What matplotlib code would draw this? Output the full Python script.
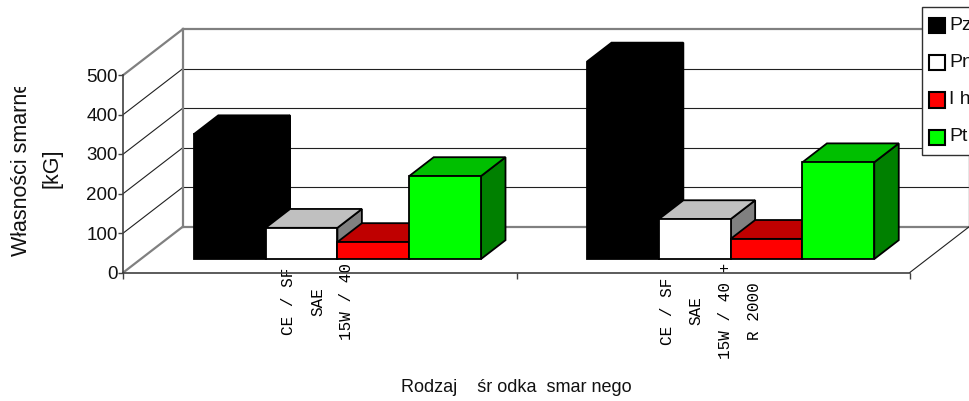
import matplotlib
matplotlib.use("Agg")
import matplotlib.pyplot as plt
from matplotlib.patches import Polygon, Patch
from matplotlib.legend_handler import HandlerPatch
from matplotlib.transforms import Bbox

# Measured properties of the two lubricants
categories = ["CE / SF\nSAE\n15W / 40", "CE / SF\nSAE\n15W / 40 +\nR 2000"]
series_names = ["Pz", "Pn", "I h", "Pt"]
pz_values = [316, 500]
pn_values = [79, 101]
ih_values = [43, 51]
pt_values = [210, 245]
y_ticks = [0, 100, 200, 300, 400, 500]

front_colors = ["#000000", "#FFFFFF", "#FF0000", "#00FF00"]
top_colors = ["#000000", "#C0C0C0", "#BF0000", "#00BF00"]
side_colors = ["#000000", "#808080", "#800000", "#008000"]

W, H = 970, 401
AX_L, AX_R, AX_B, AX_T = 123.3, 909.8, 272.5, 75
fig = plt.figure(figsize=(W / 100, H / 100), dpi=100, facecolor="white")
plt.rcParams["font.family"] = "Liberation Sans"
ax = fig.add_axes([AX_L / W, 1 - AX_B / H, (AX_R - AX_L) / W, (AX_B - AX_T) / H])
ax.set_xlim(0, 2)
ax.set_ylim(0, 500)
ax.patch.set_visible(False)

# Depth vector of the chart box, in data units
PX_X = 2 / (AX_R - AX_L)
PX_Y = 500 / (AX_B - AX_T)
DEPTH_X = 59.7 * PX_X
DEPTH_Y = 46 * PX_Y
BAR_START = 0.293
BAR_DEPTH = 0.41
BAR_WIDTH = 71.8 * PX_X

wall_color = "#808080"
grid_color = "#202020"
thin = 0.8

# Back wall, floor and side wall
for v in y_ticks:
    is_edge = v in (0, 500)
    c = wall_color if is_edge else grid_color
    lw = 1.6 if is_edge else thin
    ax.plot([0, DEPTH_X], [v, v + DEPTH_Y], color=c, lw=lw, clip_on=False, zorder=1)
    ax.plot([DEPTH_X, 2 + DEPTH_X], [v + DEPTH_Y, v + DEPTH_Y], color=c, lw=lw,
            clip_on=False, zorder=1)
ax.plot([DEPTH_X, DEPTH_X], [DEPTH_Y, 500 + DEPTH_Y], color=wall_color, lw=1.6,
        clip_on=False, zorder=1)
ax.plot([2 + DEPTH_X, 2 + DEPTH_X], [DEPTH_Y, 500 + DEPTH_Y], color=wall_color, lw=1.0,
        clip_on=False, zorder=1)
ax.plot([2, 2 + DEPTH_X], [0, DEPTH_Y], color=grid_color, lw=thin, clip_on=False, zorder=1)


def draw_bar(x, value, color_index):
    """Draw one box with its front, top and side faces."""
    x0 = x + BAR_START * DEPTH_X
    y0 = BAR_START * DEPTH_Y
    y1 = y0 + value
    x1 = x0 + BAR_WIDTH
    dx, dy = BAR_DEPTH * DEPTH_X, BAR_DEPTH * DEPTH_Y
    kw = dict(edgecolor="black", lw=1.3, clip_on=False, zorder=3, joinstyle="miter")
    ax.add_patch(Polygon([(x1, y0), (x1 + dx, y0 + dy), (x1 + dx, y1 + dy), (x1, y1)],
                         facecolor=side_colors[color_index], **kw))
    ax.add_patch(Polygon([(x0, y1), (x1, y1), (x1 + dx, y1 + dy), (x0 + dx, y1 + dy)],
                         facecolor=top_colors[color_index], **kw))
    ax.add_patch(Polygon([(x0, y0), (x1, y0), (x1, y1), (x0, y1)],
                         facecolor=front_colors[color_index], **kw))


all_series = [pz_values, pn_values, ih_values, pt_values]
for g in range(len(categories)):
    left = g + 0.5 - 2 * BAR_WIDTH
    for s, values in enumerate(all_series):
        draw_bar(left + s * BAR_WIDTH, values[g], s)

# Axes and ticks
for side in ("top", "right"):
    ax.spines[side].set_visible(False)
for side in ("left", "bottom"):
    ax.spines[side].set_color("#404040")
    ax.spines[side].set_linewidth(1.2)
ax.set_yticks(y_ticks)
ax.tick_params(axis="y", length=3.5, width=1, color="#404040", labelsize=13.5, pad=0.5,
               labelcolor="#111111")
ax.set_xticks([0, 1, 2])
ax.set_xticklabels([])
ax.tick_params(axis="x", which="major", length=4, width=1, color="#404040")
ax.set_xticks([0.495, 1.494], minor=True)
ax.set_xticklabels(categories, minor=True, rotation=90, family="Liberation Mono",
                   fontsize=11.5, linespacing=2.17, ha="center", va="top",
                   multialignment="center", color="#000000")
ax.tick_params(axis="x", which="minor", length=0, pad=-7)

ax.set_xlabel("Rodzaj    śr odka  smar nego", fontsize=13, color="#111111")
ax.xaxis.set_label_coords(0.5, 1 - (388 - AX_T) / (AX_B - AX_T), transform=ax.transAxes)
ax.xaxis.label.set_va("center")

ax.set_ylabel("Własności smarne\n[kG]", fontsize=15.5, color="#111111", linespacing=1.62)
ax.yaxis.label.set_ha("center")
ax.yaxis.label.set_va("center")
ax.yaxis.set_label_coords((36.5 - AX_L) / (AX_R - AX_L), (AX_B - 168) / (AX_B - AX_T),
                          transform=ax.transAxes)
ax.yaxis.label.set_clip_box(Bbox([[0, 0], [W, H - 87]]))
ax.yaxis.label.set_clip_on(True)

handles = [Patch(facecolor=c, edgecolor="black", lw=1.5) for c in front_colors]
legend = ax.legend(handles, series_names, loc="upper left",
                   bbox_to_anchor=(922.5 / W, 1 - 7 / H), bbox_transform=fig.transFigure,
                   borderaxespad=0, fontsize=14, frameon=True, fancybox=False,
                   framealpha=1, edgecolor="#303030", handlelength=0.665, handleheight=0.38,
                   handletextpad=0.2, labelspacing=1.04, borderpad=0.5,
                   handler_map={Patch: HandlerPatch(xpad=-0.155, ypad=-0.29)})
legend.set_zorder(5)
legend.get_frame().set_linewidth(1.0)
for t in legend.get_texts():
    t.set_color("#111111")

fig.savefig("out.png", dpi=100)
